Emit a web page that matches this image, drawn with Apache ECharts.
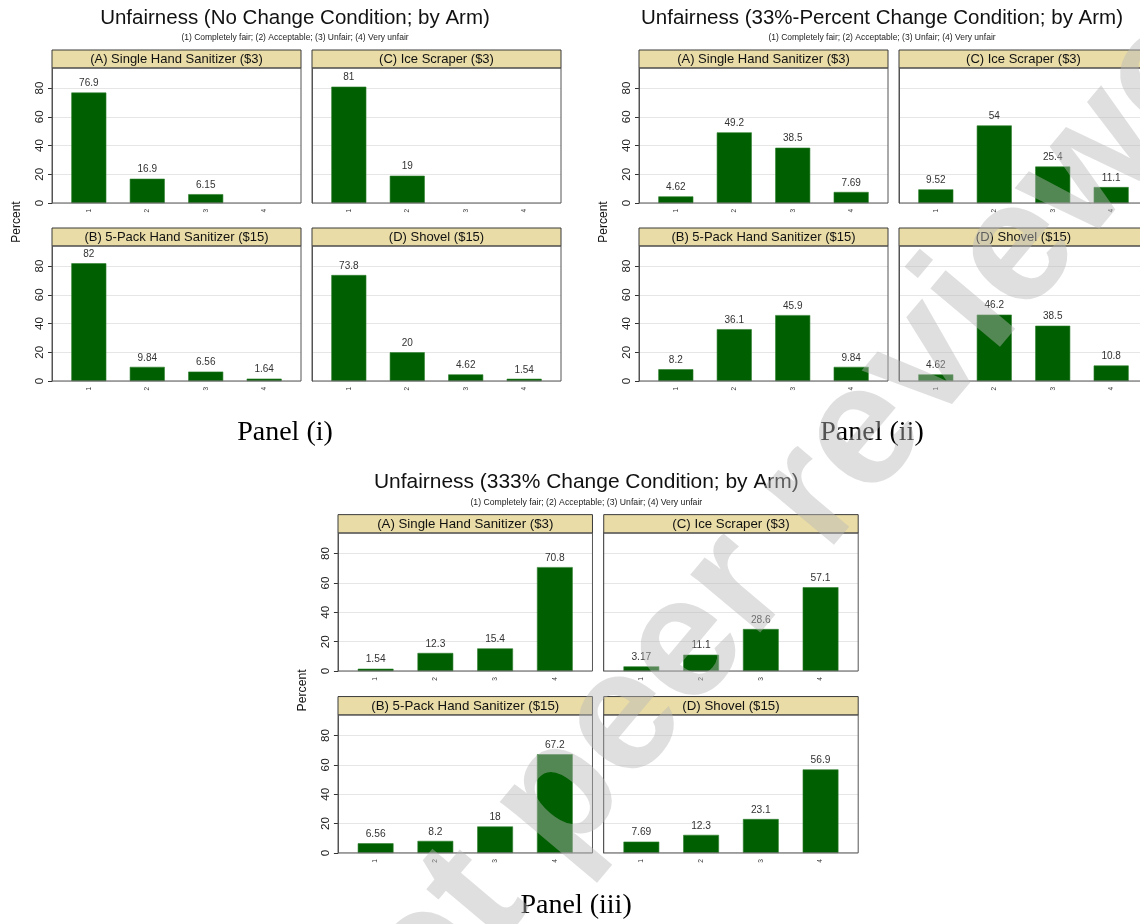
<!DOCTYPE html>
<html>
<head>
<meta charset="utf-8">
<script src="https://cdn.jsdelivr.net/npm/echarts@6/dist/echarts.min.js"></script>
<style>
  html, body { margin: 0; padding: 0; background: #fff; }
  #chart { width: 1140px; height: 924px; }
</style>
</head>
<body>
<div id="chart"></div>
<script>
// Rating scale (x categories) and y tick labels
const ratingLevels = [1, 2, 3, 4];
const percentTicks = [0, 20, 40, 60, 80];

// Sub-plot titles, in order: top-left, top-right, bottom-left, bottom-right
const armTitles = [
  '(A) Single Hand Sanitizer ($3)',
  '(C) Ice Scraper ($3)',
  '(B) 5-Pack Hand Sanitizer ($15)',
  '(D) Shovel ($15)'
];

const conditionTitles = [
  'Unfairness (No Change Condition; by Arm)',
  'Unfairness (33%-Percent Change Condition; by Arm)',
  'Unfairness (333% Change Condition; by Arm)'
];
const conditionSubtitle = '(1) Completely fair; (2) Acceptable; (3) Unfair; (4) Very unfair';
const panelTags = ['Panel (i)', 'Panel (ii)', 'Panel (iii)'];

// Percent of respondents per rating (null = no responses)
const noChangeA = [76.9, 16.9, 6.15, null];
const noChangeC = [81, 19, null, null];
const noChangeB = [82, 9.84, 6.56, 1.64];
const noChangeD = [73.8, 20, 4.62, 1.54];

const change33A = [4.62, 49.2, 38.5, 7.69];
const change33C = [9.52, 54, 25.4, 11.1];
const change33B = [8.2, 36.1, 45.9, 9.84];
const change33D = [4.62, 46.2, 38.5, 10.8];

const change333A = [1.54, 12.3, 15.4, 70.8];
const change333C = [3.17, 11.1, 28.6, 57.1];
const change333B = [6.56, 8.2, 18, 67.2];
const change333D = [7.69, 12.3, 23.1, 56.9];

const conditionData = [
  [noChangeA, noChangeC, noChangeB, noChangeD],
  [change33A, change33C, change33B, change33D],
  [change333A, change333C, change333B, change333D]
];

// ---- styling ----
const SANS = '"Liberation Sans", Arial, Helvetica, sans-serif';
const SERIF = '"Liberation Serif", "DejaVu Serif", serif';
const BAR = '#005f00';
const STRIP = '#e9dca6';
const FRAME = '#555555';

const grids = [], xAxes = [], yAxes = [], series = [], graphics = [];

function addText(text, x, y, size, opts) {
  opts = opts || {};
  graphics.push({
    type: 'text',
    x: x, y: y,
    rotation: opts.rotation || 0,
    z: opts.z || 60,
    silent: true,
    style: {
      text: text,
      x: 0, y: 0,
      fill: opts.color || '#111',
      font: (opts.weight || 'normal') + ' ' + size + 'px ' + (opts.family || SANS),
      align: 'center', verticalAlign: 'middle',
      textAlign: 'center', textVerticalAlign: 'middle'
    }
  });
}

// One condition figure: 2x2 grid of bar charts.
// ox = x of the left plot edge, oy = y of the zero line of the top row, s = scale
function addCondition(ci, ox, oy, s) {
  const boxW = 249 * s, boxH = 135 * s, stripH = 18 * s;
  const colX = [ox, ox + 260 * s];
  const rowTop = [oy - 135 * s, oy - 135 * s + 178 * s];

  addText(conditionTitles[ci], ox + 243 * s, oy - 185 * s, 20.5 * s);
  addText(conditionSubtitle, ox + 243 * s, oy - 165 * s, 8.5 * s, { color: '#222' });
  addText('Percent', ox - 35 * s, oy + 19 * s, 12 * s, { rotation: Math.PI / 2, color: '#111' });
  addText(panelTags[ci], ox + 233 * s, oy + 230 * s, 28, { family: SERIF, color: '#000' });

  for (let k = 0; k < 4; k++) {
    const r = Math.floor(k / 2), c = k % 2;
    const left = colX[c], top = rowTop[r];
    const idx = grids.length;

    grids.push({
      left: left, top: top, width: boxW, height: boxH,
      containLabel: false, outerBoundsMode: 'none',
      show: true, backgroundColor: '#fff', borderWidth: 0
    });

    xAxes.push({
      type: 'value', gridIndex: idx, min: 0.37, max: 4.63,
      axisLine: { show: false },
      axisTick: { show: false, customValues: ratingLevels },
      splitLine: { show: false },
      axisLabel: {
        customValues: ratingLevels, rotate: 90, fontSize: 6.5 * s,
        fontFamily: SANS, color: '#333', margin: 6 * s
      }
    });

    yAxes.push({
      type: 'value', gridIndex: idx, min: 0, max: 94, interval: 20,
      axisLine: { show: true, lineStyle: { color: FRAME, width: 1 } },
      axisTick: { show: c === 0, length: 4 * s, customValues: percentTicks, lineStyle: { color: '#333' } },
      axisLabel: {
        show: c === 0, customValues: percentTicks,
        rotate: 90, fontSize: 11.5 * s, fontFamily: SANS, color: '#222', margin: 6 * s
      },
      splitLine: { show: true, lineStyle: { color: '#e6e6e6', width: 1 } }
    });

    const vals = conditionData[ci][k];
    const data = [];
    vals.forEach((v, i) => { if (v !== null) data.push([ratingLevels[i], v]); });

    series.push({
      type: 'bar', xAxisIndex: idx, yAxisIndex: idx,
      data: data, barWidth: 35 * s,
      itemStyle: { color: BAR, borderColor: '#2f7f2f', borderWidth: 0.6 },
      label: {
        show: true, position: 'top', distance: 4 * s,
        fontSize: 10 * s, fontFamily: SANS, color: '#333',
        formatter: p => String(p.value[1])
      },
      silent: true, animation: false
    });

    // strip header above each plot
    graphics.push({
      type: 'rect', z: 55, silent: true,
      shape: { x: left, y: top - stripH, width: boxW, height: stripH },
      style: { fill: STRIP, stroke: '#3a3a3a', lineWidth: 1 }
    });
    addText(armTitles[k], left + boxW / 2, top - stripH / 2 + 0.5, 13 * s, { color: '#111' });

    // plot frame
    graphics.push({
      type: 'rect', z: 55, silent: true,
      shape: { x: left, y: top, width: boxW, height: boxH },
      style: { fill: null, stroke: FRAME, lineWidth: 1 }
    });
  }
}

addCondition(0, 52, 203, 1);
addCondition(1, 639, 203, 1);
addCondition(2, 338, 671, 1.022);

// preprint watermark across the figure
addText('Not peer reviewed', 787, 527, 172, {
  rotation: 50 * Math.PI / 180, weight: 'bold', color: 'rgba(185,185,185,0.45)', z: 100
});

const chart = echarts.init(document.getElementById('chart'), null, { renderer: 'canvas' });
chart.setOption({
  animation: false,
  backgroundColor: '#ffffff',
  grid: grids,
  xAxis: xAxes,
  yAxis: yAxes,
  series: series,
  graphic: { elements: graphics }
});
</script>
</body>
</html>
